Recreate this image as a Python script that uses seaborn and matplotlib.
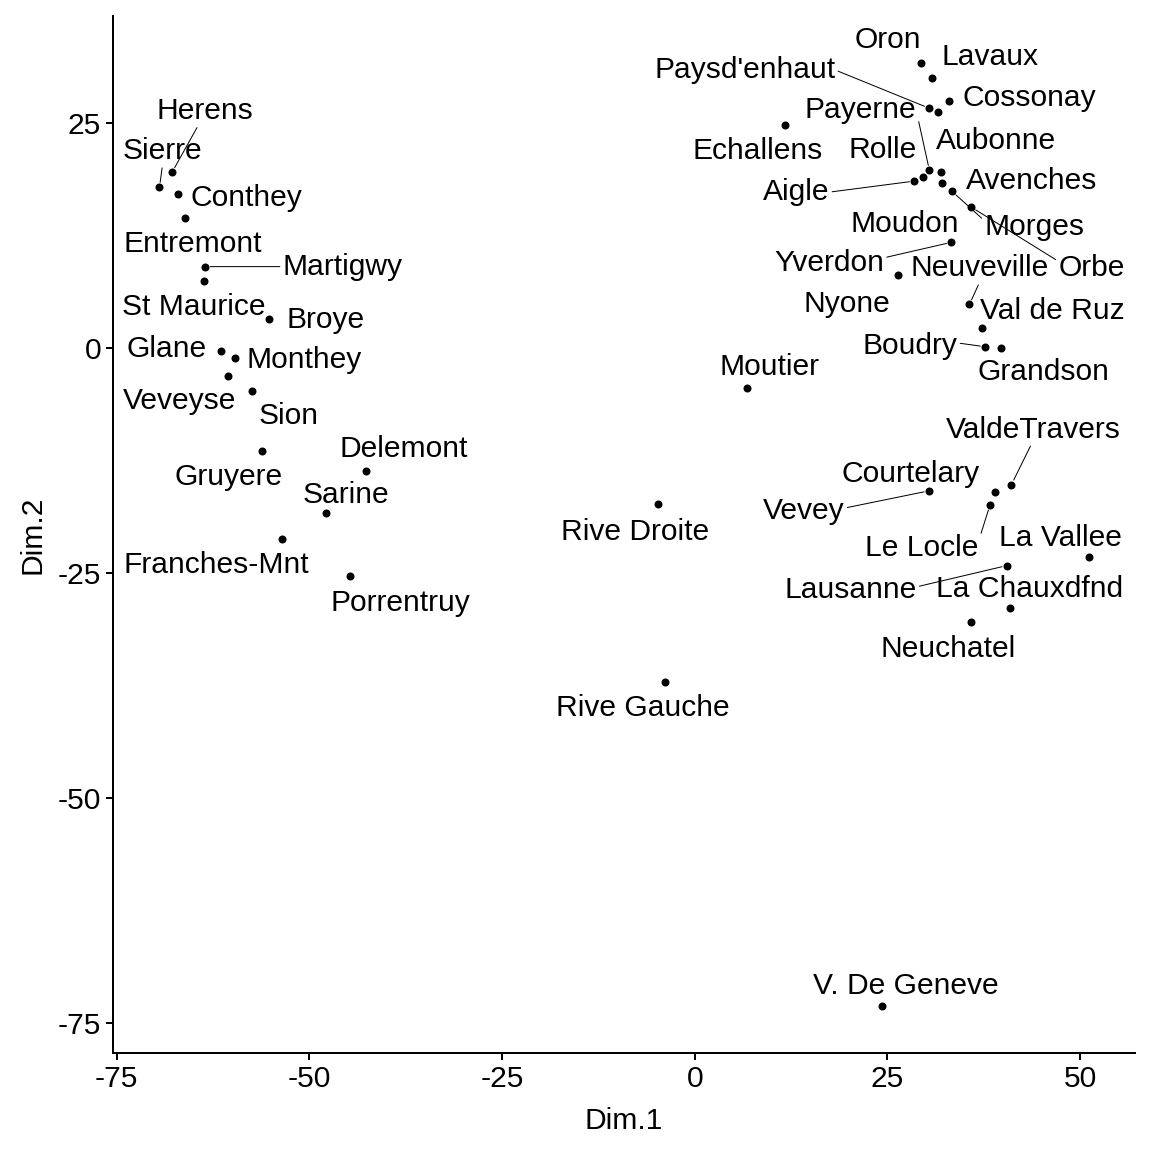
import matplotlib
matplotlib.use("Agg")
import matplotlib.pyplot as plt
from matplotlib.ticker import MultipleLocator
import seaborn as sns
import pandas as pd

# MDS coordinates of the Swiss provinces
names = ["Courtelary", "Delemont", "Franches-Mnt", "Moutier", "Neuveville", "Porrentruy",
         "Broye", "Glane", "Gruyere", "Sarine", "Veveyse", "Aigle", "Aubonne", "Avenches",
         "Cossonay", "Echallens", "Grandson", "Lausanne", "La Vallee", "Lavaux", "Morges",
         "Moudon", "Nyone", "Orbe", "Oron", "Payerne", "Paysd'enhaut", "Rolle", "Vevey",
         "Yverdon", "Conthey", "Entremont", "Herens", "Martigwy", "Monthey", "St Maurice",
         "Sierre", "Sion", "Boudry", "La Chauxdfnd", "Le Locle", "Neuchatel", "Val de Ruz",
         "ValdeTravers", "V. De Geneve", "Rive Droite", "Rive Gauche"]
dim1 = [38.9, -42.7, -53.6, 6.8, 35.65, -44.7,
        -55.3, -61.5, -56.2, -47.9, -60.6, 28.5, 31.6, 32.0,
        33.0, 11.7, 39.7, 40.5, 51.1, 30.8, 33.4,
        32.05, 26.4, 35.9, 29.4, 30.45, 30.4, 29.6, 30.4,
        33.3, -67.0, -66.2, -67.8, -63.5, -59.7, -63.7,
        -69.45, -57.4, 37.7, 40.9, 38.3, 35.8, 37.3,
        41.1, 24.35, -4.7, -3.8]
dim2 = [-16.0, -13.7, -21.2, -4.5, 4.8, -25.4,
        3.2, -0.35, -11.5, -18.4, -3.2, 18.5, 26.2, 19.5,
        27.4, 24.75, 0.0, -24.2, -23.2, 29.9, 17.35,
        18.3, 8.1, 15.6, 31.6, 19.7, 26.6, 18.9, -15.9,
        11.7, 17.1, 14.4, 19.5, 9.0, -1.1, 7.4,
        17.8, -4.8, 0.1, -28.9, -17.5, -30.5, 2.2,
        -15.2, -73.1, -17.4, -37.1]

# label placement (offset in points from the point, to the label's baseline centre)
offsets = {
    "Sierre": (3, 28), "Herens": (33, 53), "Conthey": (68, -12), "Entremont": (8, -34),
    "Martigwy": (137, -8), "St Maurice": (-10, -34), "Broye": (57, -9), "Glane": (-54, -6),
    "Monthey": (70, -10), "Veveyse": (-48, -33), "Sion": (36, -33), "Gruyere": (-33, -34),
    "Delemont": (38, 14), "Sarine": (20, 10), "Franches-Mnt": (-65, -34), "Porrentruy": (50, -35),
    "Oron": (-33, 15), "Lavaux": (58, 13), "Paysd'enhaut": (-184, 30), "Cossonay": (80, -5),
    "Aubonne": (58, -37), "Echallens": (-27, -34), "Payerne": (-69, 52), "Avenches": (90, -17),
    "Rolle": (-40, 19), "Aigle": (-118, -19), "Moudon": (-37, -49), "Morges": (82, -44),
    "Orbe": (120, -69), "Yverdon": (-122, -29), "Nyone": (-51, -37), "Neuveville": (10, 28),
    "Val de Ruz": (70, 9), "Boudry": (-75, -7), "Grandson": (43, -32), "Moutier": (22, 13),
    "ValdeTravers": (22, 47), "Courtelary": (-84, 10), "Vevey": (-125, -28),
    "Le Locle": (-68, -51), "La Vallee": (-28, 11), "Lausanne": (-156, -32),
    "La Chauxdfnd": (20, 11), "Neuchatel": (-23, -35), "Rive Droite": (-23, -36),
    "Rive Gauche": (-23, -34), "V. De Geneve": (23, 12),
}
# labels joined to their point by a segment, and where on the label box it starts
segments = {
    "Herens": (0.43, 0.0), "Sierre": (0.5, 0.0), "Martigwy": (0.0, 0.5),
    "Paysd'enhaut": (1.0, 0.5), "Payerne": (1.0, 0.5), "Aigle": (1.0, 0.5),
    "Morges": (0.0, 0.75), "Orbe": (0.0, 0.75), "Yverdon": (1.0, 0.7),
    "Neuveville": (0.5, 0.0), "Boudry": (1.0, 0.6), "ValdeTravers": (0.49, 0.0),
    "Vevey": (1.0, 0.6), "Le Locle": (1.0, 0.75), "Lausanne": (1.0, 0.6),
}

sns.set_style("ticks")
plt.rcParams['font.family'] = ['Liberation Sans', 'DejaVu Sans']
plt.rcParams['axes.unicode_minus'] = False

df = pd.DataFrame({"Dim.1": dim1, "Dim.2": dim2, "name": names})

fig = plt.figure(figsize=(16, 16), dpi=72)
ax = fig.add_axes([113 / 1152, 1 - 1053 / 1152, 1022 / 1152, 1037 / 1152])

sns.scatterplot(data=df, x="Dim.1", y="Dim.2", color="black", s=64, linewidth=0,
                ax=ax, zorder=3)
ax.margins(0.05)

for _, row in df.iterrows():
    dx, dy = offsets[row["name"]]
    arrow = None
    if row["name"] in segments:
        arrow = dict(arrowstyle="-", color="black", lw=1.0, shrinkA=0, shrinkB=5,
                     relpos=segments[row["name"]])
    ax.annotate(row["name"], (row["Dim.1"], row["Dim.2"]), xytext=(dx, dy),
                textcoords="offset points", ha="center", va="baseline",
                fontsize=30, color="black", arrowprops=arrow)

ax.xaxis.set_major_locator(MultipleLocator(25))
ax.yaxis.set_major_locator(MultipleLocator(25))
ax.tick_params(axis="both", length=7, width=2, color="black", labelcolor="black",
               labelsize=30, pad=5)
ax.set_xlabel("Dim.1", fontsize=30, color="black", labelpad=14)
ax.set_ylabel("Dim.2", fontsize=30, color="black", labelpad=11)
sns.despine(ax=ax)
for side in ["left", "bottom"]:
    ax.spines[side].set_linewidth(2)
    ax.spines[side].set_color("black")

fig.savefig("out.png", dpi=72)
